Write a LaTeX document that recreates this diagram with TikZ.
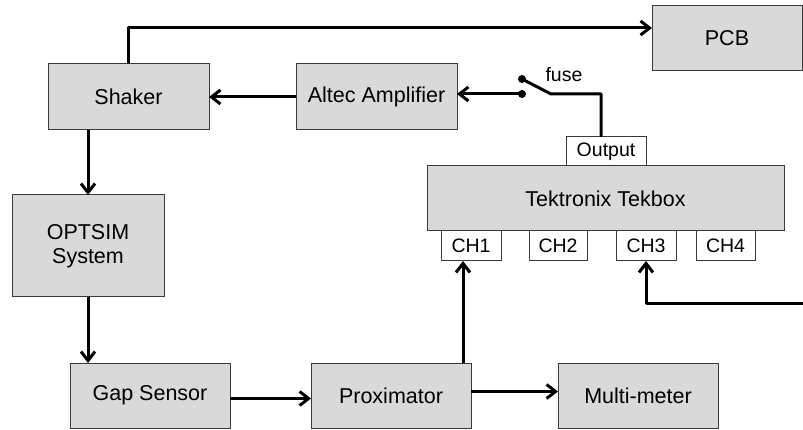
\documentclass[tikz,border=0pt]{standalone}
\usepackage{fontspec}
\setmainfont{Liberation Sans}
\usetikzlibrary{arrows.meta,calc}
\definecolor{boxfill}{HTML}{D9D9D9}
\definecolor{boxline}{HTML}{3A3A3A}
\begin{document}
\begin{tikzpicture}[x=1pt,y=-1pt,
  blk/.style={draw=boxline,line width=1pt,fill=boxfill,anchor=north west,inner sep=0pt,outer sep=0pt,
    font=\fontsize{21.5}{24}\selectfont,align=center},
  port/.style={draw=boxline,line width=1pt,fill=white,anchor=north west,inner sep=0pt,outer sep=0pt,
    font=\fontsize{19.5}{22}\selectfont,minimum height=30pt},
  wire/.style={line width=3pt,line join=round},
  arr/.style={wire,-{Straight Barb[length=9pt,width=14pt,line width=3pt]}},
  dot/.style={circle,fill=black,inner sep=0pt,minimum size=8pt}]
\useasboundingbox (0,0) rectangle (803,430);
% blocks
\node[blk,minimum width=161pt,minimum height=66pt] (shaker) at (48,64) {Shaker};
\node[blk,minimum width=161pt,minimum height=66pt] (altec) at (296,64) {Altec Amplifier};
\node[blk,minimum width=150pt,minimum height=65pt] (pcb) at (652,6) {PCB};
\node[blk,minimum width=152pt,minimum height=102pt] (optsim) at (12,195) {OPTSIM\\System};
\node[blk,minimum width=160pt,minimum height=65pt] (gap) at (70,363) {Gap Sensor};
\node[blk,minimum width=160pt,minimum height=65pt] (prox) at (311,363) {Proximator};
\node[blk,minimum width=160pt,minimum height=65pt] (multi) at (558,363) {Multi-meter};
\node[blk,minimum width=357pt,minimum height=65pt] (tek) at (427,166) {Tektronix Tekbox};
% ports
\node[port,minimum width=80pt,minimum height=29pt] (out) at (566,137) {Output};
\node[port,minimum width=60pt] (ch1) at (441,231) {CH1};
\node[port,minimum width=58pt] (ch2) at (529,231) {CH2};
\node[port,minimum width=60pt] (ch3) at (616,231) {CH3};
\node[port,minimum width=59pt] (ch4) at (696,231) {CH4};
% switch
\node[dot] (dotA) at (522,79) {};
\node[dot] (dotB) at (522,94) {};
\node[font=\fontsize{19.5}{22}\selectfont] (fuse) at (564,75) {fuse};
\coordinate (sw) at (551,94);
\coordinate (bend) at (601,94);
\coordinate (top) at (128.5,28);
\coordinate (ext) at (803,304);
% connectors
\draw[arr] (shaker.north) -- (top) -- (top -| pcb.west);
\draw[arr] (altec.west) -- (shaker.east);
\draw[arr] (dotB.center) -- (dotB.center -| altec.east);
\draw[wire] (dotA.center) -- (sw) -- (bend) -- (bend |- out.north);
\draw[arr] (shaker.south -| optsim.north) -- (optsim.north);
\draw[arr] (optsim.south) -- (optsim.south |- gap.north);
\draw[arr] ([yshift=-3pt]gap.east) -- ([yshift=-3pt]gap.east -| prox.west);
\draw[arr] ([yshift=4pt]prox.east) -- ([yshift=4pt]prox.east -| multi.west);
\draw[arr] ([xshift=-8pt]ch1.south |- prox.north) -- ([xshift=-8pt]ch1.south);
\draw[arr] (ext) -| (ch3.south);
\end{tikzpicture}
\end{document}
